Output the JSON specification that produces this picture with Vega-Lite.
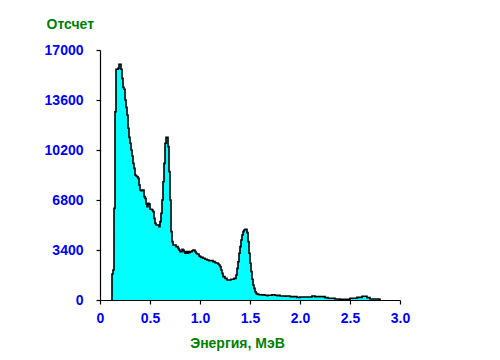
{
  "$schema": "https://vega.github.io/schema/vega-lite/v6.json",
  "autosize": "none",
  "width": 300,
  "height": 250,
  "padding": {"left": 100, "top": 50, "right": 100, "bottom": 60},
  "background": "white",
  "config": {
    "view": {"stroke": null},
    "axis": {
      "grid": false,
      "domainColor": "#000000",
      "domainWidth": 1.2,
      "tickColor": "#000000",
      "tickWidth": 1.2,
      "tickSize": 4,
      "labelFont": "Liberation Sans",
      "labelFontSize": 14,
      "labelFontWeight": "bold",
      "labelColor": "#0000FF",
      "titleFont": "Liberation Sans",
      "titleFontSize": 14,
      "titleFontWeight": "bold",
      "titleColor": "#008000",
      "labelFlush": false,
      "labelOverlap": false
    }
  },
  "data": {
    "values": [
      {"e": 0.119, "c": 0},
      {"e": 0.12, "c": 1770}, {"e": 0.13, "c": 2040}, {"e": 0.14, "c": 6230}, {"e": 0.15, "c": 12800},
      {"e": 0.16, "c": 15690}, {"e": 0.17, "c": 15690}, {"e": 0.18, "c": 15750}, {"e": 0.19, "c": 16020},
      {"e": 0.20, "c": 16020}, {"e": 0.21, "c": 15690}, {"e": 0.22, "c": 15070}, {"e": 0.23, "c": 14460},
      {"e": 0.24, "c": 14330}, {"e": 0.25, "c": 13600}, {"e": 0.26, "c": 13100}, {"e": 0.27, "c": 12580},
      {"e": 0.28, "c": 11680}, {"e": 0.29, "c": 11060}, {"e": 0.30, "c": 10660}, {"e": 0.31, "c": 10200},
      {"e": 0.32, "c": 9790}, {"e": 0.33, "c": 9290}, {"e": 0.34, "c": 8950}, {"e": 0.35, "c": 8500},
      {"e": 0.36, "c": 8430}, {"e": 0.37, "c": 8380}, {"e": 0.38, "c": 8270}, {"e": 0.39, "c": 7820},
      {"e": 0.40, "c": 7480}, {"e": 0.41, "c": 7430}, {"e": 0.42, "c": 7480}, {"e": 0.43, "c": 7480},
      {"e": 0.44, "c": 7030}, {"e": 0.45, "c": 6910}, {"e": 0.46, "c": 6530}, {"e": 0.47, "c": 6350},
      {"e": 0.48, "c": 6570}, {"e": 0.49, "c": 6530}, {"e": 0.50, "c": 6170}, {"e": 0.51, "c": 6170},
      {"e": 0.52, "c": 6120}, {"e": 0.53, "c": 6010}, {"e": 0.54, "c": 5550}, {"e": 0.55, "c": 5210},
      {"e": 0.56, "c": 5100}, {"e": 0.57, "c": 5100}, {"e": 0.58, "c": 5100}, {"e": 0.59, "c": 4990},
      {"e": 0.60, "c": 5330}, {"e": 0.61, "c": 5900}, {"e": 0.62, "c": 6800}, {"e": 0.63, "c": 8040},
      {"e": 0.64, "c": 9290}, {"e": 0.65, "c": 10660}, {"e": 0.66, "c": 11060}, {"e": 0.67, "c": 11060},
      {"e": 0.68, "c": 10430}, {"e": 0.69, "c": 8730}, {"e": 0.70, "c": 6800}, {"e": 0.71, "c": 4650},
      {"e": 0.72, "c": 3970}, {"e": 0.73, "c": 3740}, {"e": 0.74, "c": 3740}, {"e": 0.75, "c": 3740},
      {"e": 0.76, "c": 3630}, {"e": 0.77, "c": 3630}, {"e": 0.78, "c": 3510}, {"e": 0.79, "c": 3400},
      {"e": 0.80, "c": 3290}, {"e": 0.81, "c": 3290}, {"e": 0.82, "c": 3450}, {"e": 0.83, "c": 3400},
      {"e": 0.84, "c": 3290}, {"e": 0.85, "c": 3180}, {"e": 0.86, "c": 3290}, {"e": 0.87, "c": 3180},
      {"e": 0.88, "c": 3290}, {"e": 0.89, "c": 3220}, {"e": 0.90, "c": 3290}, {"e": 0.91, "c": 3290},
      {"e": 0.92, "c": 3350}, {"e": 0.93, "c": 3400}, {"e": 0.94, "c": 3400}, {"e": 0.95, "c": 3290},
      {"e": 0.96, "c": 3180}, {"e": 0.97, "c": 3130}, {"e": 0.98, "c": 3130}, {"e": 0.99, "c": 2990},
      {"e": 1.00, "c": 2950}, {"e": 1.01, "c": 2900}, {"e": 1.02, "c": 2900}, {"e": 1.03, "c": 2840},
      {"e": 1.04, "c": 2840}, {"e": 1.05, "c": 2770}, {"e": 1.06, "c": 2770}, {"e": 1.07, "c": 2720},
      {"e": 1.08, "c": 2720}, {"e": 1.09, "c": 2680}, {"e": 1.10, "c": 2680}, {"e": 1.11, "c": 2680},
      {"e": 1.12, "c": 2680}, {"e": 1.13, "c": 2610}, {"e": 1.14, "c": 2610}, {"e": 1.15, "c": 2540},
      {"e": 1.16, "c": 2520}, {"e": 1.17, "c": 2520}, {"e": 1.18, "c": 2450}, {"e": 1.19, "c": 2380},
      {"e": 1.20, "c": 2270}, {"e": 1.21, "c": 2040}, {"e": 1.22, "c": 1810}, {"e": 1.23, "c": 1590},
      {"e": 1.24, "c": 1590}, {"e": 1.25, "c": 1470}, {"e": 1.26, "c": 1470}, {"e": 1.27, "c": 1360},
      {"e": 1.28, "c": 1360}, {"e": 1.29, "c": 1360}, {"e": 1.30, "c": 1360}, {"e": 1.31, "c": 1410},
      {"e": 1.32, "c": 1410}, {"e": 1.33, "c": 1410}, {"e": 1.34, "c": 1470}, {"e": 1.35, "c": 1470},
      {"e": 1.36, "c": 1700}, {"e": 1.37, "c": 2150}, {"e": 1.38, "c": 2600}, {"e": 1.39, "c": 3180},
      {"e": 1.40, "c": 3630}, {"e": 1.41, "c": 4080}, {"e": 1.42, "c": 4420}, {"e": 1.43, "c": 4650},
      {"e": 1.44, "c": 4760}, {"e": 1.45, "c": 4810}, {"e": 1.46, "c": 4810}, {"e": 1.47, "c": 4580},
      {"e": 1.48, "c": 3970}, {"e": 1.49, "c": 3180}, {"e": 1.50, "c": 2500}, {"e": 1.51, "c": 1930},
      {"e": 1.52, "c": 1410}, {"e": 1.53, "c": 1020}, {"e": 1.54, "c": 790}, {"e": 1.55, "c": 560},
      {"e": 1.56, "c": 450}, {"e": 1.57, "c": 410}, {"e": 1.58, "c": 380}, {"e": 1.59, "c": 360},
      {"e": 1.60, "c": 360}, {"e": 1.61, "c": 360}, {"e": 1.62, "c": 340}, {"e": 1.63, "c": 360},
      {"e": 1.64, "c": 360}, {"e": 1.65, "c": 320}, {"e": 1.66, "c": 320}, {"e": 1.67, "c": 300},
      {"e": 1.68, "c": 320}, {"e": 1.69, "c": 320}, {"e": 1.70, "c": 320}, {"e": 1.71, "c": 320},
      {"e": 1.72, "c": 360}, {"e": 1.73, "c": 360}, {"e": 1.74, "c": 360}, {"e": 1.75, "c": 320},
      {"e": 1.76, "c": 320}, {"e": 1.77, "c": 300}, {"e": 1.78, "c": 320}, {"e": 1.79, "c": 320},
      {"e": 1.80, "c": 270}, {"e": 1.81, "c": 270}, {"e": 1.82, "c": 270}, {"e": 1.83, "c": 270},
      {"e": 1.84, "c": 270}, {"e": 1.85, "c": 250}, {"e": 1.86, "c": 270}, {"e": 1.87, "c": 270},
      {"e": 1.88, "c": 270}, {"e": 1.89, "c": 270}, {"e": 1.90, "c": 230}, {"e": 1.91, "c": 230},
      {"e": 1.92, "c": 230}, {"e": 1.93, "c": 230}, {"e": 1.94, "c": 230}, {"e": 1.95, "c": 230},
      {"e": 1.96, "c": 230}, {"e": 1.97, "c": 180}, {"e": 1.98, "c": 180}, {"e": 1.99, "c": 180},
      {"e": 2.00, "c": 200}, {"e": 2.01, "c": 200}, {"e": 2.02, "c": 200}, {"e": 2.03, "c": 200},
      {"e": 2.04, "c": 200}, {"e": 2.05, "c": 200}, {"e": 2.06, "c": 200}, {"e": 2.07, "c": 200},
      {"e": 2.08, "c": 200}, {"e": 2.09, "c": 200}, {"e": 2.10, "c": 200}, {"e": 2.11, "c": 200},
      {"e": 2.12, "c": 270}, {"e": 2.13, "c": 270}, {"e": 2.14, "c": 270}, {"e": 2.15, "c": 230},
      {"e": 2.16, "c": 230}, {"e": 2.17, "c": 230}, {"e": 2.18, "c": 230}, {"e": 2.19, "c": 230},
      {"e": 2.20, "c": 230}, {"e": 2.21, "c": 230}, {"e": 2.22, "c": 230}, {"e": 2.23, "c": 230},
      {"e": 2.24, "c": 230}, {"e": 2.25, "c": 160}, {"e": 2.26, "c": 160}, {"e": 2.27, "c": 160},
      {"e": 2.28, "c": 115}, {"e": 2.29, "c": 115}, {"e": 2.30, "c": 115}, {"e": 2.31, "c": 115},
      {"e": 2.32, "c": 115}, {"e": 2.33, "c": 115}, {"e": 2.34, "c": 115}, {"e": 2.35, "c": 70},
      {"e": 2.36, "c": 70}, {"e": 2.37, "c": 70}, {"e": 2.38, "c": 70}, {"e": 2.39, "c": 70},
      {"e": 2.40, "c": 50}, {"e": 2.41, "c": 50}, {"e": 2.42, "c": 50}, {"e": 2.43, "c": 50},
      {"e": 2.44, "c": 50}, {"e": 2.45, "c": 50}, {"e": 2.46, "c": 50}, {"e": 2.47, "c": 50},
      {"e": 2.48, "c": 50}, {"e": 2.49, "c": 50}, {"e": 2.50, "c": 115}, {"e": 2.51, "c": 115},
      {"e": 2.52, "c": 115}, {"e": 2.53, "c": 115}, {"e": 2.54, "c": 115}, {"e": 2.55, "c": 115},
      {"e": 2.56, "c": 115}, {"e": 2.57, "c": 180}, {"e": 2.58, "c": 180}, {"e": 2.59, "c": 180},
      {"e": 2.60, "c": 180}, {"e": 2.61, "c": 180}, {"e": 2.62, "c": 250}, {"e": 2.63, "c": 250},
      {"e": 2.64, "c": 250}, {"e": 2.65, "c": 250}, {"e": 2.66, "c": 250}, {"e": 2.67, "c": 160},
      {"e": 2.68, "c": 160}, {"e": 2.69, "c": 160}, {"e": 2.70, "c": 70}, {"e": 2.71, "c": 70},
      {"e": 2.72, "c": 70}, {"e": 2.73, "c": 70}, {"e": 2.74, "c": 70}, {"e": 2.75, "c": 70},
      {"e": 2.76, "c": 70}, {"e": 2.77, "c": 70}, {"e": 2.78, "c": 70}, {"e": 2.79, "c": 40},
      {"e": 2.80, "c": 0}
    ]
  },
  "encoding": {
    "x": {
      "field": "e",
      "type": "quantitative",
      "scale": {"domain": [0, 3], "nice": false, "zero": false},
      "axis": {
        "values": [0, 0.5, 1, 1.5, 2, 2.5, 3],
        "labelExpr": "datum.value == 0 ? '0' : format(datum.value, '.1f')",
        "labelPadding": 7,
        "title": "Энергия, МэВ",
        "titleX": 137,
        "titleY": 47,
        "titleAlign": "center",
        "titleBaseline": "alphabetic"
      }
    },
    "y": {
      "field": "c",
      "type": "quantitative",
      "scale": {"domain": [0, 17000], "nice": false},
      "axis": {
        "values": [0, 3400, 6800, 10200, 13600, 17000],
        "format": "d",
        "labelPadding": 13,
        "title": "Отсчет",
        "titleAngle": 0,
        "titleX": -54,
        "titleY": -22,
        "titleAlign": "left",
        "titleBaseline": "alphabetic"
      }
    }
  },
  "layer": [
    {"mark": {"type": "area", "interpolate": "step-after", "color": "#00FFFF"}},
    {"mark": {"type": "line", "interpolate": "step-after", "color": "#000000", "strokeWidth": 1.6}}
  ]
}
